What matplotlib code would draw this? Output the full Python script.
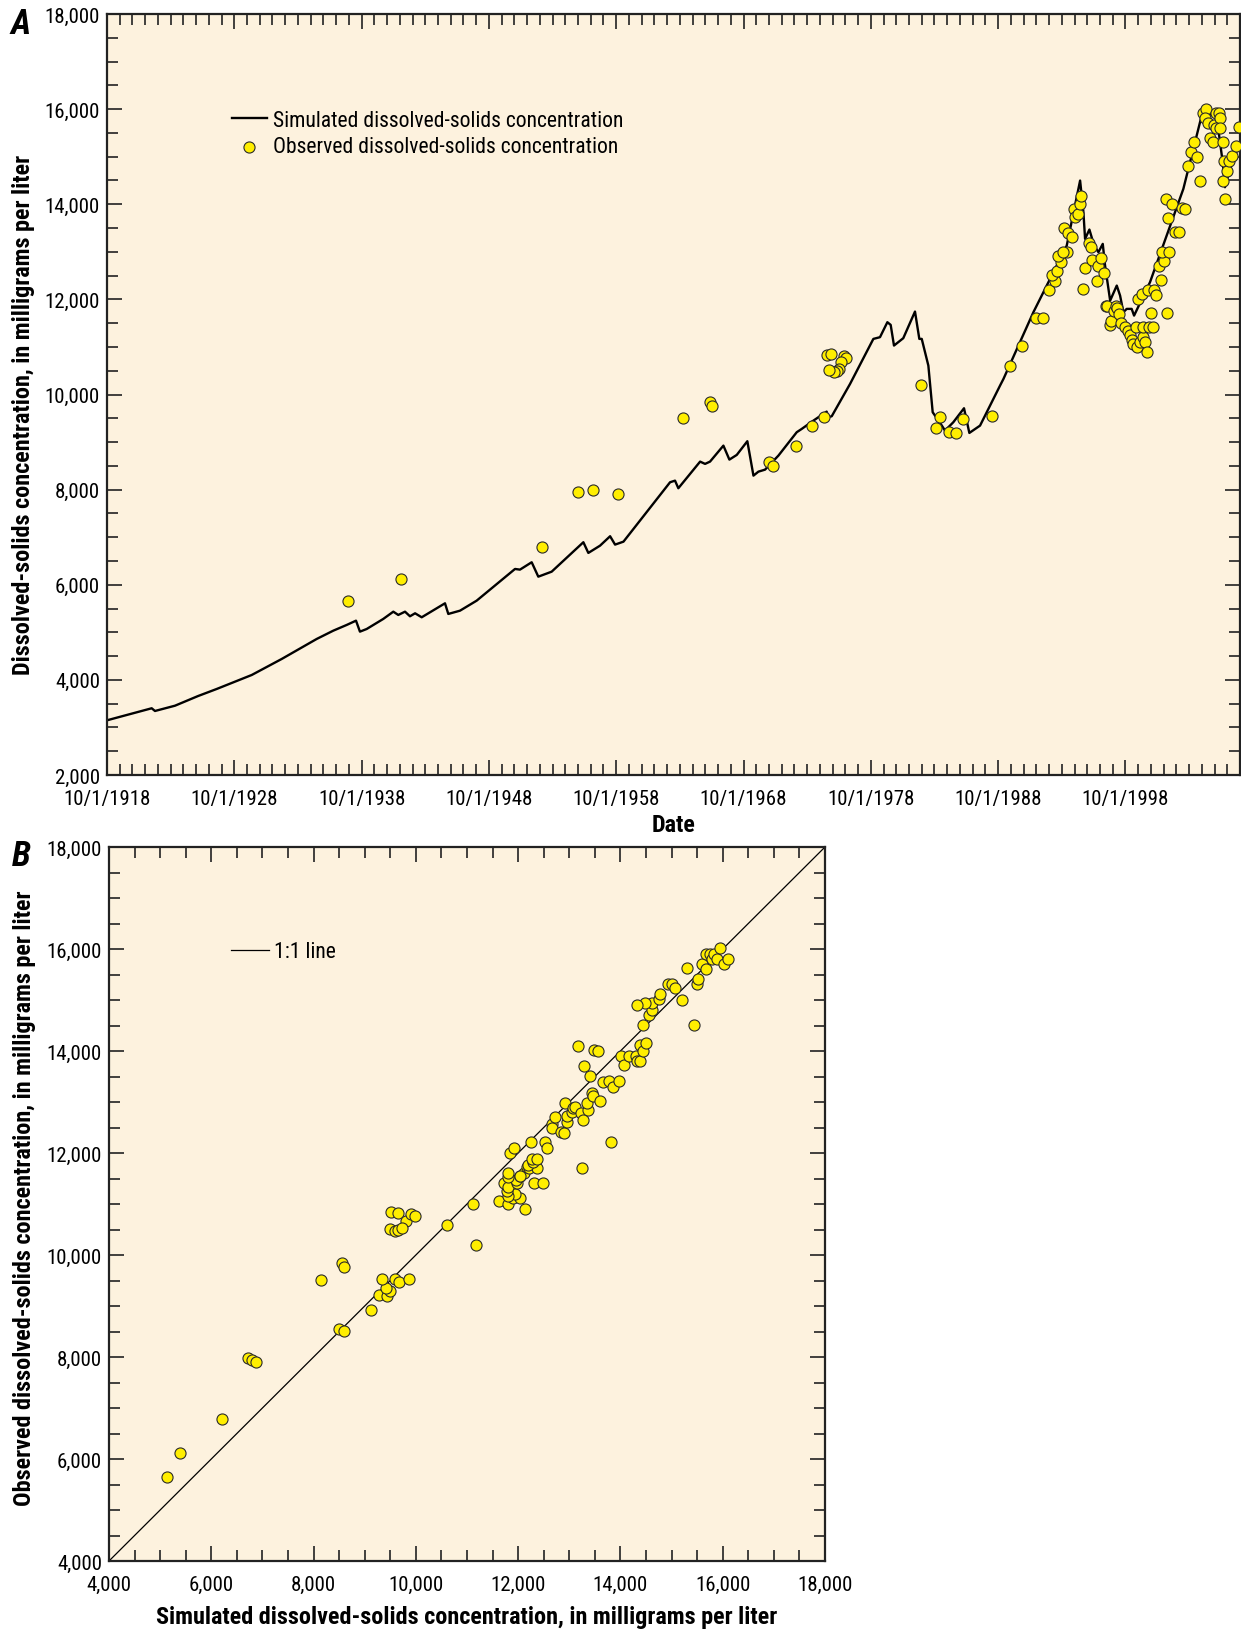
import matplotlib
matplotlib.use("Agg")
import matplotlib.pyplot as plt
from matplotlib import font_manager as fm
from matplotlib.ticker import FixedLocator, MultipleLocator, FuncFormatter

# pick a condensed sans family if one is installed
_names = {f.name for f in fm.fontManager.ttflist}
_family = None
for cand in ['Roboto Condensed', 'Liberation Sans Narrow', 'Open Sans Condensed',
             'Noto Sans Condensed']:
    if cand in _names:
        _family = cand
        break
if _family is None:
    _family = 'Liberation Sans' if 'Liberation Sans' in _names else 'DejaVu Sans'
plt.rcParams['font.family'] = [_family, 'DejaVu Sans']

# ---------------- data: panel A (decimal water-year dates) ----------------
sim_year = [1918.75, 1922.26, 1922.52, 1924.09, 1925.9, 1927.37, 1930.12, 1932.47,
            1935.22, 1936.53, 1937.58, 1938.31, 1938.62, 1939.15, 1940.45, 1941.24,
            1941.63, 1942.16, 1942.55, 1942.95, 1943.47, 1945.30, 1945.56, 1946.48,
            1947.79, 1950.80, 1951.19, 1952.11, 1952.63, 1953.68, 1956.17, 1956.56,
            1957.48, 1958.27, 1958.66, 1959.32, 1962.98, 1963.37, 1963.63, 1965.34,
            1965.73, 1966.12, 1967.17, 1967.64, 1968.22, 1969.05, 1969.53, 1969.92,
            1970.44, 1971.49, 1972.93, 1973.32, 1974.24, 1975.28, 1975.41, 1975.68,
            1977.12, 1978.95, 1979.47, 1980.05, 1980.31, 1980.57, 1981.30, 1982.22,
            1982.56, 1982.75, 1983.27, 1983.61, 1984.19, 1984.58, 1985.23, 1986.07,
            1986.49, 1987.33, 1988.90, 1989.17, 1991.52, 1994.14, 1995.19, 1995.45,
            1995.58, 1995.92, 1996.29, 1996.63, 1996.97, 1997.15, 1997.55, 1998.07,
            1998.33, 1998.59, 1998.85, 1999.24, 1999.43, 2000.68, 2003.30, 2004.74,
            2005.08, 2005.92, 2006.39, 2006.57, 2006.97, 2007.75]
sim_value = [3150, 3403, 3346, 3457, 3660, 3809, 4103, 4439,
             4860, 5035, 5155, 5245, 5014, 5070, 5281, 5434,
             5365, 5434, 5337, 5400, 5316, 5610, 5386, 5455,
             5666, 6332, 6318, 6473, 6170, 6275, 6894, 6669,
             6822, 7020, 6844, 6906, 8155, 8189, 8029, 8589,
             8541, 8589, 8925, 8631, 8730, 9018, 8294, 8378,
             8420, 8715, 9207, 9276, 9451, 9640, 9522, 9543,
             10223, 11169, 11205, 11520, 11464, 11029, 11184, 11744,
             11169, 11169, 10607, 9627, 9403, 9241, 9417, 9711,
             9192, 9346, 10187, 10328, 11730, 13131, 14498, 13833,
             13272, 13468, 13131, 12992, 13167, 12711, 11975, 12290,
             12080, 11730, 11800, 11800, 11659, 12361, 14323, 15865,
             15935, 15830, 14884, 14358, 14744, 15300]

obs_year = [1937.65, 1941.85, 1952.90, 1955.73, 1956.91, 1958.90, 1963.98, 1966.12,
            1966.25, 1970.77, 1971.09, 1972.88, 1974.16, 1975.05, 1975.28, 1975.64,
            1976.61, 1976.79, 1976.42, 1976.26, 1976.08, 1975.82, 1975.50, 1982.71,
            1984.15, 1983.89, 1984.86, 1985.41, 1985.98, 1988.29, 1989.68, 1990.60,
            1991.69, 1992.24, 1992.76, 1993.21, 1992.95, 1993.34, 1993.70, 1993.47,
            1994.18, 1993.81, 1993.94, 1994.26, 1994.57, 1994.70, 1994.78, 1995.04,
            1995.18, 1995.28, 1995.44, 1995.60, 1995.89, 1996.04, 1996.15, 1996.49,
            1996.62, 1996.83, 1997.07, 1997.20, 1997.33, 1997.55, 1997.62, 1997.83,
            1997.99, 1998.12, 1998.28, 1998.44, 1998.73, 1998.97, 1999.12, 1999.25,
            1999.38, 1999.65, 1999.59, 1999.90, 2000.11, 2000.29, 2000.16, 2000.42,
            2000.63, 2000.95, 2000.76, 1999.77, 2000.03, 2000.55, 2001.00, 2001.13,
            2001.53, 2001.37, 2001.79, 2001.60, 2002.18, 2002.04, 2002.12, 2001.94,
            2002.44, 2002.65, 2002.97, 2003.23, 2003.41, 2003.70, 2003.89, 2004.12,
            2004.36, 2004.59, 2004.83, 2005.09, 2005.01, 2005.22, 2005.43, 2005.61,
            2005.74, 2005.87, 2006.08, 2006.18, 2005.85, 2006.21, 2006.39, 2006.44,
            2006.60, 2006.50, 2006.76, 2006.91, 2007.10, 2007.41, 2007.65]
obs_value = [5653, 6122, 6801, 7951, 7987, 7916, 9508, 9851,
             9767, 8576, 8505, 8925, 9346, 9535, 10833, 10854,
             10805, 10763, 10679, 10538, 10503, 10469, 10517, 10202,
             9535, 9291, 9220, 9199, 9487, 9543, 10607, 11015,
             11604, 11604, 12206, 12396, 12515, 12606, 12795, 12921,
             13005, 12992, 13503, 13398, 13307, 13903, 13728, 13798,
             14002, 14163, 12221, 12656, 13181, 13097, 12837, 12396,
             12711, 12873, 12557, 11870, 11870, 11464, 11554, 11764,
             11870, 11814, 11695, 11506, 11415, 11344, 11253, 11155,
             11064, 10994, 11415, 11100, 11205, 11100, 11415, 10902,
             11415, 11415, 11710, 12010, 12115, 12206, 12206, 12094,
             12403, 12711, 12803, 13005, 13005, 11710, 13714, 14113,
             14002, 13413, 13413, 13918, 13903, 14801, 15108, 15305,
             15003, 14498, 15915, 16006, 15810, 15705, 15402, 15305,
             15670, 15915, 15915, 15810, 15600, 15606, 15305, 14498,
             14113, 14906, 14709, 14919, 15024, 15234, 15621]

# ---------------- data: panel B ----------------
b_sim = [5141, 5388, 6203, 6724, 6802, 6874, 8139, 8562, 8589, 8505, 8601, 9129,
         9285, 9430, 9495, 9410, 9338, 9598, 9677, 9860, 9520, 9657, 9814, 9899,
         9984, 9489, 9586, 9657, 9735, 10603, 11170, 11124, 11841, 11920, 11632,
         11796, 11900, 12031, 12135, 11939, 11796, 11776, 11730, 11796, 11978, 11952,
         11796, 11796, 12031, 12115, 12180, 12037, 12213, 12375, 12317, 12480, 12200,
         12297, 12265, 12362, 12258, 12526, 12558, 12656, 12656, 12721, 12831, 12897,
         12917, 12950, 12963, 13048, 13081, 13113, 13231, 13263, 13373, 13341, 13445,
         13471, 13601, 13243, 13810, 13654, 13777, 13862, 13979, 13412, 13288, 13177,
         13484, 13569, 14011, 14076, 14174, 14305, 14318, 14383, 14383, 14448, 14501,
         14448, 14566, 14613, 14613, 14476, 14318, 14762, 14775, 14925, 15003, 15068,
         15205, 15440, 15297, 15498, 15524, 15590, 15674, 15674, 15752, 15785, 15830,
         15883, 15948, 16026, 16098]
b_obs = [5647, 6112, 6790, 7986, 7947, 7908, 9504, 9849, 9765, 8549, 8503, 8922,
         9222, 9196, 9288, 9347, 9529, 9529, 9477, 9529, 10843, 10824, 10673, 10804,
         10771, 10510, 10465, 10497, 10536, 10595, 10203, 11000, 12000, 12104, 11059,
         10994, 11112, 11112, 10902, 11196, 11151, 11255, 11406, 11327, 11406, 11477,
         11523, 11608, 11555, 11608, 11732, 11543, 11712, 11706, 11412, 11412, 11759,
         11824, 11888, 11876, 12209, 12209, 12098, 12575, 12490, 12706, 12412, 12398,
         12990, 12608, 12719, 12804, 12882, 12902, 12791, 12641, 12837, 12980, 13176,
         13111, 13013, 11706, 12216, 13386, 13412, 13294, 13406, 13504, 13706, 14104,
         14014, 14006, 13896, 13719, 13902, 13896, 13798, 13798, 14112, 14000, 14157,
         14504, 14700, 14811, 14941, 14941, 14908, 15026, 15124, 15307, 15320, 15235,
         15006, 14504, 15627, 15307, 15412, 15712, 15608, 15908, 15908, 15810, 15908,
         15810, 16020, 15712, 15810]
one_to_one = [4000, 18000]

a_xlim = (1918.75, 2007.75)
a_major_years = [1918, 1928, 1938, 1948, 1958, 1968, 1978, 1988, 1998]
a_ylim = (2000, 18000)
b_lim = (4000, 18000)

# ---------------- style ----------------
BG = '#FDF2DE'
YEL = '#FFEE00'
EDGE = '#2a2a2a'
PX = 100 / 72.0   # pixels per point

fig = plt.figure(figsize=(12.41, 16.33), dpi=100)
axA = fig.add_axes([107/1241, 1-776/1633, (1240-107)/1241, (776-15)/1633])
axB = fig.add_axes([109/1241, 1-1562/1633, (825-109)/1241, (1562-848)/1633])

comma = FuncFormatter(lambda v, p: f"{int(v):,}")

renderer = fig.canvas.get_renderer()

def text_len(s, fs, **kw):
    t = fig.text(0, 0, s, fontsize=fs, **kw)
    bb = t.get_window_extent(renderer)
    t.remove()
    return bb.width

def fit_fs(s, target_px, base=14, **kw):
    return base * target_px / text_len(s, base, **kw)

if _family == 'Roboto Condensed':
    TICK_FS = 15.0
    LET_FS = 25.0
else:
    TICK_FS = fit_fs('10/1/1918', 81)
    LET_FS = fit_fs('A', 24, fontweight='bold', fontstyle='italic')
LEG_FS = fit_fs('Simulated dissolved-solids concentration', 352)
LAB_FS = fit_fs('Simulated dissolved-solids concentration, in milligrams per liter', 625,
                fontweight='bold')

def style(ax):
    ax.set_facecolor(BG)
    for s in ax.spines.values():
        s.set_linewidth(1.6)
        s.set_color('#222222')
    ax.tick_params(which='both', direction='in', top=True, right=True,
                   color='#222222', labelsize=TICK_FS)
    ax.tick_params(which='major', length=11, width=1.2)
    ax.tick_params(which='minor', length=8, width=1.2)
    ax.tick_params(axis='x', which='major', pad=10)
    ax.tick_params(axis='y', which='major', pad=5)

# Panel A
style(axA)
axA.plot(sim_year, sim_value, color='black', lw=1.7, zorder=2,
         label='Simulated dissolved-solids concentration')
axA.scatter(obs_year, obs_value, s=64, color=YEL, edgecolor=EDGE, linewidth=0.8,
            zorder=3, label='Observed dissolved-solids concentration')
axA.set_xlim(*a_xlim)
axA.set_ylim(*a_ylim)
axA.xaxis.set_major_locator(FixedLocator([y + 0.75 for y in a_major_years]))
axA.xaxis.set_major_formatter(FuncFormatter(lambda v, p: f"10/1/{int(round(v - 0.75))}"))
axA.xaxis.set_minor_locator(FixedLocator([1918.75 + k for k in range(0, 90)]))
axA.yaxis.set_major_locator(MultipleLocator(2000))
axA.yaxis.set_minor_locator(MultipleLocator(500))
axA.yaxis.set_major_formatter(comma)
axA.set_xlabel('Date', fontsize=LAB_FS, fontweight='bold')
axA.xaxis.set_label_coords(0.5, -0.050)
axA.set_ylabel('Dissolved-solids concentration, in milligrams per liter',
               fontsize=LAB_FS, fontweight='bold')
axA.yaxis.set_label_coords(-0.0635, 0.475)
hl = 35 / (LEG_FS * PX)
axA.legend(loc='upper left', bbox_to_anchor=(0.110, 0.874), frameon=False,
           fontsize=LEG_FS, handlelength=hl, handletextpad=6 / (LEG_FS * PX),
           labelspacing=0.25, borderpad=0, borderaxespad=0)

# Panel B
style(axB)
axB.plot(one_to_one, one_to_one, color='black', lw=0.9, zorder=2, label='1:1 line')
axB.scatter(b_sim, b_obs, s=64, color=YEL, edgecolor=EDGE, linewidth=0.8, zorder=3)
axB.set_xlim(*b_lim)
axB.set_ylim(*b_lim)
for axis in (axB.xaxis, axB.yaxis):
    axis.set_major_locator(MultipleLocator(2000))
    axis.set_minor_locator(MultipleLocator(500))
    axis.set_major_formatter(comma)
axB.set_xlabel('Simulated dissolved-solids concentration, in milligrams per liter',
               fontsize=LAB_FS, fontweight='bold')
axB.xaxis.set_label_coords(0.5, -0.062)
axB.set_ylabel('Observed dissolved-solids concentration, in milligrams per liter',
               fontsize=LAB_FS, fontweight='bold')
axB.yaxis.set_label_coords(-0.102, 0.51)
hlb = 38 / (LEG_FS * PX)
axB.legend(loc='upper left', bbox_to_anchor=(0.170, 0.868), frameon=False,
           fontsize=LEG_FS, handlelength=hlb, handletextpad=5 / (LEG_FS * PX),
           borderpad=0, borderaxespad=0)

fig.text(21/1241, 1-24/1633, 'A', fontsize=LET_FS, fontweight='bold', fontstyle='italic',
         ha='center', va='center')
fig.text(21/1241, 1-857/1633, 'B', fontsize=LET_FS, fontweight='bold', fontstyle='italic',
         ha='center', va='center')

fig.savefig('out.png', dpi=100, facecolor='white')
